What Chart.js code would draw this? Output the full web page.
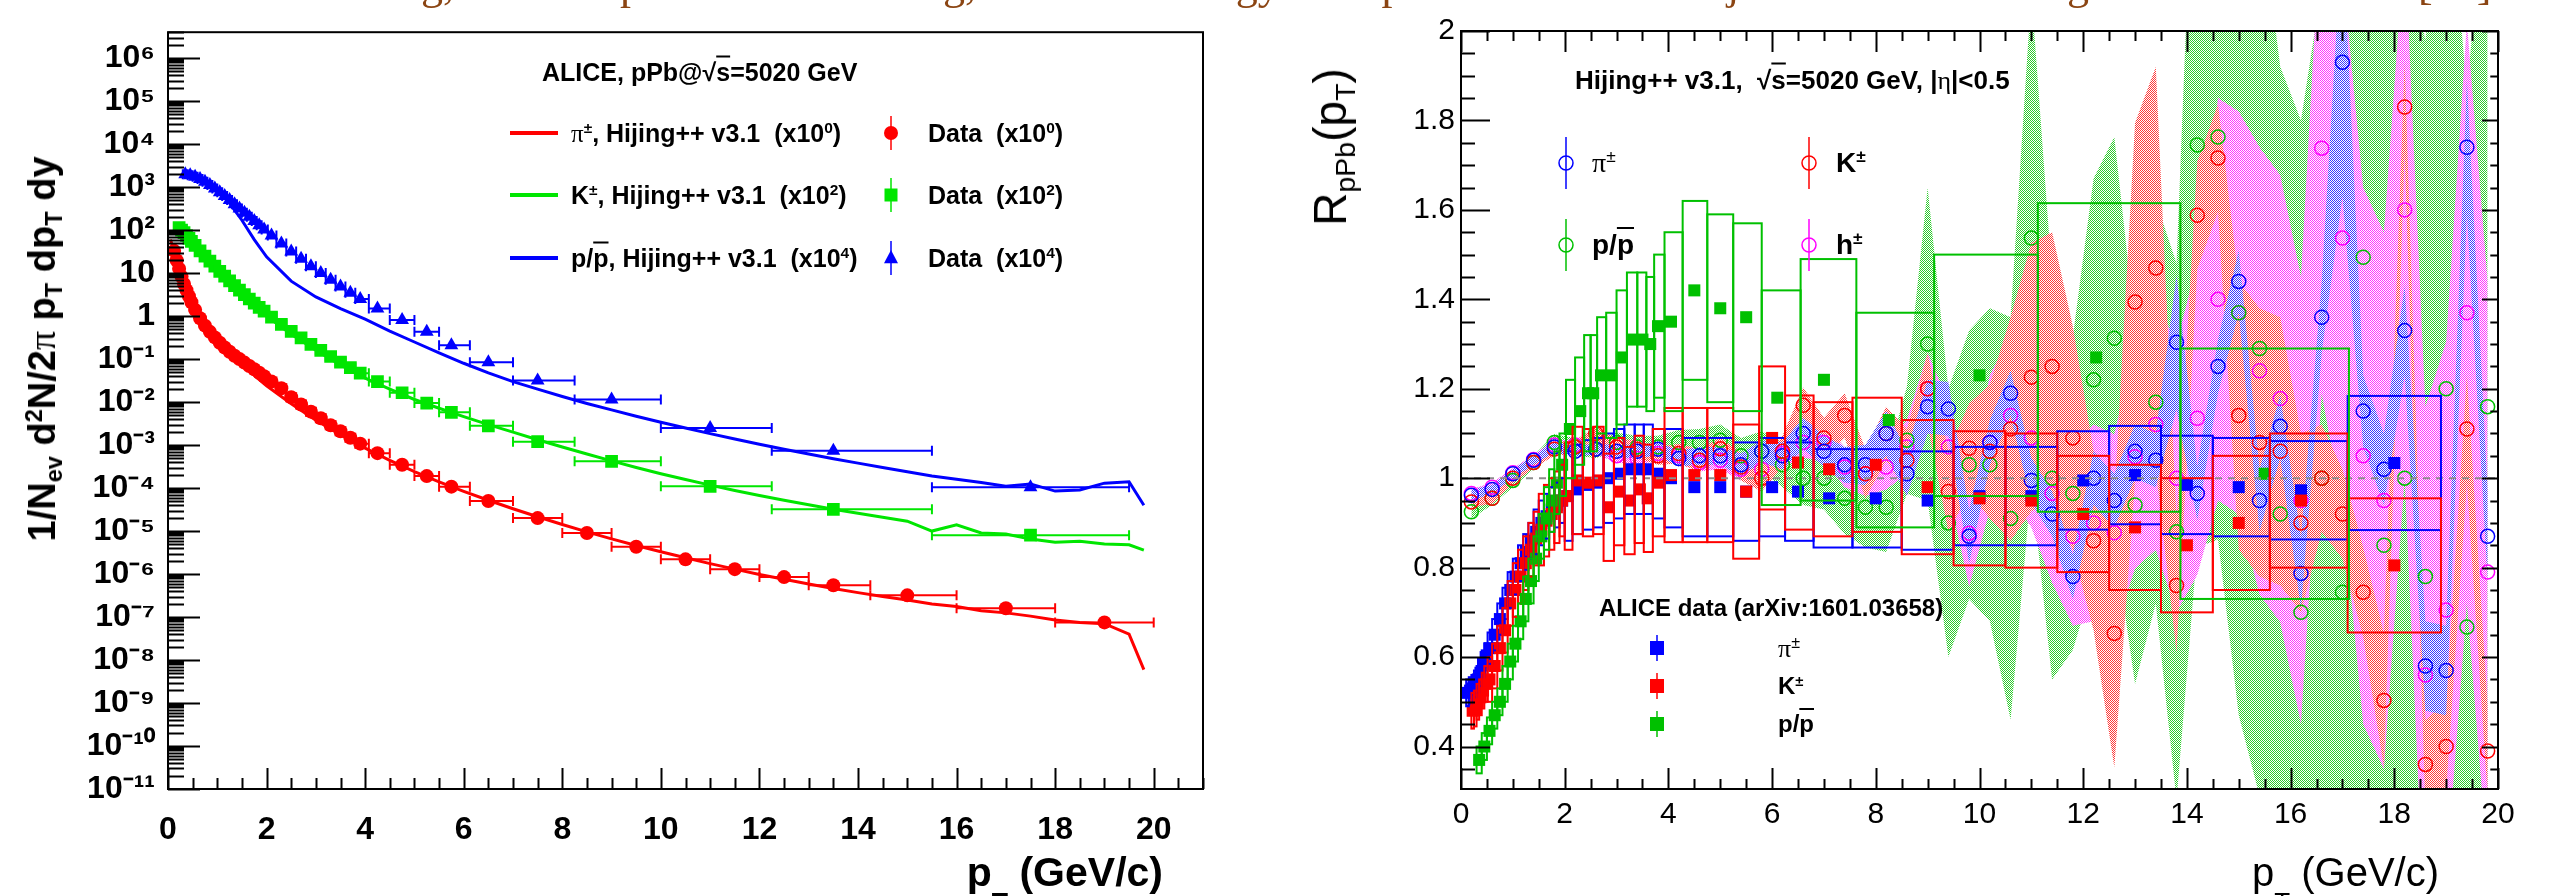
<!DOCTYPE html>
<html>
<head>
<meta charset="utf-8">
<script src="https://cdn.jsdelivr.net/npm/chart.js@4/dist/chart.umd.min.js"></script>
<style>
  html, body { margin: 0; padding: 0; background: #fff; }
  body { position: relative; width: 2549px; height: 896px; overflow: hidden;
         font-family: 'Liberation Sans', Arial, Helvetica, sans-serif; color: #000; }
  canvas { position: absolute; top: 0; }
  #spec { left: 0; }
  #rppb { left: 1300px; }
  .t { position: absolute; white-space: nowrap; line-height: 1; transform: translateY(-50%); }
  .b { font-weight: bold; }
  .sym { font-family: 'Liberation Serif', 'DejaVu Serif', serif; font-weight: normal; }
  sup { font-size: 62%; line-height: 0; vertical-align: 0.55em; }
  .lo { font-size: 62%; position: relative; top: 0.3em; line-height: 0; }
  .cut { font-size: 65%; position: relative; top: 0.95em; line-height: 0; }
  .ov { text-decoration: overline; }
  .rot { position: absolute; white-space: nowrap; line-height: 1; transform: translate(-50%, -50%) rotate(-90deg); }
  .brown { position: absolute; top: -37px; font: 44px 'Liberation Serif', 'Times New Roman', serif;
           color: #8b4513; line-height: 1; white-space: nowrap; }
</style>
</head>
<body>
<canvas id="spec" width="1240" height="896"></canvas>
<canvas id="rppb" width="1249" height="896"></canvas>

<!-- slide text above the figure, only its lower edge is in view -->
<span class="brown" style="left:399px">ng,</span>
<span class="brown" style="left:598px">up</span>
<span class="brown" style="left:921px">ng,</span>
<span class="brown" style="left:1222px">rgy</span>
<span class="brown" style="left:1362px">ep</span>
<span class="brown" style="left:1727px">jet</span>
<span class="brown" style="left:2045px">ng</span>
<span class="brown" style="left:2418px">[33]</span>

<!-- left panel texts -->
<div class="rot b" style="left:42px;top:349px;font-size:38px">1/N<span class="lo">ev</span> d<sup>2</sup>N/2<span class="sym">π</span> p<span class="lo">T</span> dp<span class="lo">T</span> dy</div>
<div class="t b" style="right:1386px;top:872px;font-size:41px">p<span class="cut">T</span> (GeV/c)</div>
<div class="t b" style="left:542px;top:72px;font-size:25px">ALICE, pPb@√<span class="ov">s</span>=5020 GeV</div>
<div class="t b" style="left:571px;top:133px;font-size:25px"><span class="sym">π</span><sup>±</sup>, Hijing++ v3.1&nbsp; (x10<sup>0</sup>)</div>
<div class="t b" style="left:571px;top:195px;font-size:25px">K<sup>±</sup>, Hijing++ v3.1&nbsp; (x10<sup>2</sup>)</div>
<div class="t b" style="left:571px;top:258px;font-size:25px">p/<span class="ov">p</span>, Hijing++ v3.1&nbsp; (x10<sup>4</sup>)</div>
<div class="t b" style="left:928px;top:133px;font-size:25px">Data&nbsp; (x10<sup>0</sup>)</div>
<div class="t b" style="left:928px;top:195px;font-size:25px">Data&nbsp; (x10<sup>2</sup>)</div>
<div class="t b" style="left:928px;top:258px;font-size:25px">Data&nbsp; (x10<sup>4</sup>)</div>

<!-- right panel texts -->
<div class="rot" style="left:1330px;top:147px;font-size:46px">R<span class="lo">pPb</span>(p<span class="lo">T</span>)</div>
<div class="t" style="right:110px;top:872px;font-size:40px">p<span class="cut">T</span> (GeV/c)</div>
<div class="t b" style="left:1575px;top:80px;font-size:26px">Hijing++ v3.1,&nbsp; √<span class="ov">s</span>=5020 GeV, |<span class="sym">η</span>|&lt;0.5</div>
<div class="t" style="left:1592px;top:163px;font-size:28px"><span class="sym">π</span><sup>±</sup></div>
<div class="t b" style="left:1836px;top:163px;font-size:28px">K<sup>±</sup></div>
<div class="t b" style="left:1592px;top:245px;font-size:28px">p/<span class="ov">p</span></div>
<div class="t b" style="left:1836px;top:245px;font-size:28px">h<sup>±</sup></div>
<div class="t b" style="left:1599px;top:608px;font-size:24px">ALICE data (arXiv:1601.03658)</div>
<div class="t" style="left:1778px;top:648px;font-size:26px"><span class="sym">π</span><sup>±</sup></div>
<div class="t b" style="left:1778px;top:686px;font-size:24px">K<sup>±</sup></div>
<div class="t b" style="left:1778px;top:724px;font-size:24px">p/<span class="ov">p</span></div>

<script>
const FONT = "'Liberation Sans', Arial, Helvetica, sans-serif";

// ---------------- left panel: spectra ----------------
const specXTicks = [0, 2, 4, 6, 8, 10, 12, 14, 16, 18, 20];
const specYExp = [-11, -10, -9, -8, -7, -6, -5, -4, -3, -2, -1, 0, 1, 2, 3, 4, 5, 6];

// ALICE data, pions x10^0
const piX = [0.125,0.175,0.225,0.275,0.325,0.375,0.425,0.475,0.55,0.65,0.75,0.85,0.95,1.05,1.15,1.25,1.35,1.45,1.55,1.65,1.75,1.85,1.95,
  2.1,2.3,2.5,2.7,2.9,3.1,3.3,3.5,3.7,3.9,4.25,4.75,5.25,5.75,6.5,7.5,8.5,9.5,10.5,11.5,12.5,13.5,15,17,19];
const piY = [33,20,12.6,8.3,5.6,4.0,2.9,2.1,1.4,0.89,0.6,0.43,0.32,0.24,0.186,0.148,0.12,0.1,0.083,0.069,0.058,0.048,0.04,
  0.03,0.021,0.013,0.0088,0.006,0.0042,0.0029,0.0021,0.00148,0.00108,6.5e-4,3.5e-4,1.9e-4,1.08e-4,5.0e-5,2.0e-5,9.0e-6,4.3e-6,
  2.2e-6,1.3e-6,8.5e-7,5.5e-7,3.2e-7,1.6e-7,7.5e-8];
// kaons x10^2
const kaX = [0.225,0.275,0.325,0.375,0.425,0.475,0.55,0.65,0.75,0.85,0.95,1.05,1.15,1.25,1.35,1.45,1.55,1.65,1.75,1.85,1.95,
  2.1,2.3,2.5,2.7,2.9,3.1,3.3,3.5,3.7,3.9,4.25,4.75,5.25,5.75,6.5,7.5,9,11,13.5,17.5];
const kaY = [115,100,87,75,64,55,44,33,25,19,14.5,11,8.5,6.6,5.1,4.0,3.15,2.5,2.0,1.6,1.3,
  0.95,0.64,0.44,0.31,0.22,0.16,0.115,0.085,0.063,0.047,0.030,0.0165,0.0095,0.0058,0.0028,0.0012,4.2e-4,1.1e-4,3.2e-5,8e-6];
// protons x10^4
const prX = [0.35,0.45,0.55,0.65,0.75,0.85,0.95,1.05,1.15,1.25,1.35,1.45,1.55,1.65,1.75,1.85,1.95,
  2.1,2.3,2.5,2.7,2.9,3.1,3.3,3.5,3.7,3.9,4.25,4.75,5.25,5.75,6.5,7.5,9,11,13.5,17.5];
const prY = [2000,1900,1750,1550,1330,1120,930,760,620,500,400,320,255,205,163,130,104,
  75,49,32,21.5,14.5,10,7.0,4.9,3.5,2.5,1.5,0.81,0.43,0.21,0.085,0.032,0.0115,0.0025,7.4e-4,1.05e-4];

// Hijing++ v3.1 curves
const piModX = [0.05,0.15,0.25,0.35,0.45,0.6,0.8,1.0,1.25,1.5,1.75,2.0,2.5,3.0,3.5,4.0,4.5,5.0,5.5,6.0,6.5,7.0,7.5,8.0,8.5,9.0,9.5,
  10,10.5,11,11.5,12,12.5,13,13.5,14,14.5,15,15.5,16,16.5,17,17.5,18,18.5,19,19.5,19.8];
const piModY = [60,26,11,5.5,3.0,1.5,0.65,0.32,0.15,0.077,0.042,0.024,0.0092,0.0038,0.00175,8.5e-4,4.4e-4,2.4e-4,1.4e-4,8.4e-5,
  5.2e-5,3.3e-5,2.15e-5,1.42e-5,9.6e-6,6.6e-6,4.6e-6,3.3e-6,2.4e-6,1.75e-6,1.3e-6,9.8e-7,7.6e-7,5.9e-7,4.6e-7,3.7e-7,3.0e-7,
  2.5e-7,2.0e-7,1.75e-7,1.4e-7,1.25e-7,1.05e-7,8.5e-8,7.5e-8,7.0e-8,4.0e-8,6e-9];
const kaModX = [0.1,0.2,0.3,0.4,0.5,0.6,0.8,1.0,1.25,1.5,1.75,2.0,2.5,3.0,3.5,4.0,4.5,5.0,5.5,6.0,6.5,7.0,7.5,8.0,8.5,9.0,9.5,
  10,10.5,11,11.5,12,12.5,13,13.5,14,14.5,15,15.5,16,16.5,17,17.5,18,18.5,19,19.5,19.8];
const kaModY = [105,100,86,70,57,40,22,12,5.8,3.1,1.75,1.0,0.38,0.16,0.073,0.036,0.02,0.0115,0.0072,0.0046,0.003,0.002,0.00133,
  9e-4,6.2e-4,4.3e-4,3.0e-4,2.15e-4,1.58e-4,1.17e-4,8.8e-5,6.7e-5,5.2e-5,4.1e-5,3.2e-5,2.6e-5,2.1e-5,1.7e-5,1.0e-5,1.4e-5,
  9e-6,8.5e-6,6.5e-6,5.5e-6,5.8e-6,5.0e-6,4.8e-6,3.6e-6];
const prModX = [0.25,0.4,0.6,0.8,1.0,1.25,1.5,1.75,2.0,2.5,3.0,3.5,4.0,4.5,5.0,5.5,6.0,6.5,7.0,7.5,8.0,8.5,9.0,9.5,
  10,10.5,11,11.5,12,12.5,13,13.5,14,14.5,15,15.5,16,16.5,17,17.5,18,18.5,19,19.5,19.8];
const prModY = [1900,1900,1700,1300,850,420,170,60,24,6.5,2.8,1.5,0.85,0.45,0.25,0.14,0.08,0.048,0.03,0.02,0.0135,0.0093,
  0.0066,0.0047,0.0034,0.0025,0.00185,0.00138,0.00105,8e-4,6.2e-4,4.8e-4,3.8e-4,3.0e-4,2.4e-4,1.9e-4,1.6e-4,1.35e-4,
  1.1e-4,1.25e-4,8.5e-5,9e-5,1.3e-4,1.4e-4,4e-5];

// ---------------- right panel: R_pPb ----------------
const rXTicks = [0, 2, 4, 6, 8, 10, 12, 14, 16, 18, 20];
const rYTicks = [0.4, 0.6, 0.8, 1.0, 1.2, 1.4, 1.6, 1.8, 2.0];

const hijX = [0.2,0.6,1.0,1.4,1.8,2.2,2.6,3.0,3.4,3.8,4.2,4.6,5.0,5.4,5.8,6.2,6.6,7.0,7.4,7.8,8.2,8.6,9.0,9.4,9.8,
  10.2,10.6,11.0,11.4,11.8,12.2,12.6,13.0,13.4,13.8,14.2,14.6,15.0,15.4,15.8,16.2,16.6,17.0,17.4,17.8,18.2,18.6,19.0,19.4,19.8];
const hijPi = [0.962,0.975,1.01,1.04,1.07,1.06,1.065,1.06,1.06,1.065, 1.044,1.05,1.05,1.03,1.06,1.05,1.10,1.06,1.03,1.03,
  1.10,1.01,1.16,1.155,0.87,1.08,1.19,0.995,0.92,0.78, 1.0,0.95,1.06,1.04,1.304,0.966,1.25,1.44,0.95,1.116,
  0.787,1.36,1.93,1.15,1.02,1.33,0.58,0.57,1.74,0.87];
const hijPiErr = [0.012,0.01,0.01,0.01,0.012,0.012,0.012,0.015,0.015,0.015, 0.018,0.02,0.02,0.025,0.025,0.03,0.035,0.035,0.04,0.045,
  0.05,0.05,0.06,0.06,0.06,0.05,0.05,0.05,0.05,0.05, 0.06,0.06,0.06,0.06,0.15,0.06,0.06,0.07,0.07,0.07,
  0.08,0.08,0.3,0.08,0.08,0.1,0.1,0.1,0.15,0.1];
const hijK = [0.947,0.955,1.0,1.035,1.065,1.07,1.10,1.07,1.065,1.05, 1.055,1.04,1.066,1.025,1.0,1.06,1.163,1.09,1.14,1.01,
  1.10,1.04,1.2,0.97,1.067,1.06,1.11,1.226,1.25,1.09, 0.86,0.653,1.394,1.47,0.76,1.588,1.716,1.14,1.08,1.06,
  0.90,1.0,0.92,0.745,0.503,1.83,0.36,0.40,1.11,0.39];
const hijKErr = [0.012,0.012,0.012,0.012,0.015,0.015,0.015,0.018,0.02,0.02, 0.022,0.025,0.025,0.03,0.03,0.035,0.04,0.045,0.05,0.055,
  0.06,0.07,0.08,0.09,0.1,0.15,0.25,0.3,0.3,0.25, 0.2,0.3,0.4,0.45,0.15,0.12,0.12,0.3,0.3,0.3,
  0.2,0.12,0.1,0.1,0.15,0.1,0.1,0.1,0.12,0.1];
const hijP = [0.925,0.955,0.995,1.035,1.08,1.07,1.065,1.08,1.07,1.07, 1.08,1.08,1.085,1.05,1.06,1.03,1.0,1.0,0.955,0.935,
  0.935,1.085,1.30,0.90,1.03,1.03,0.91,1.537,1.0,0.966, 1.22,1.313,0.94,1.17,0.88,1.745,1.763,1.37,1.29,0.92,
  0.70,1.0,0.745,1.494,0.85,1.0,0.78,1.20,0.667,1.16];
const hijPErr = [0.015,0.015,0.015,0.015,0.018,0.02,0.02,0.022,0.025,0.025, 0.028,0.03,0.035,0.04,0.045,0.05,0.06,0.07,0.08,0.09,
  0.1,0.12,0.35,0.3,0.3,0.35,0.45,0.55,0.45,0.35, 0.45,0.45,0.4,0.45,0.6,0.9,0.9,0.9,1.0,1.0,
  1.1,1.1,1.2,1.2,1.2,1.2,1.2,1.2,1.2,1.2];
const hijH = [0.966,0.98,1.012,1.042,1.074,1.074,1.065,1.05,1.044,1.055, 1.05,1.035,1.04,1.02,1.02,1.055,1.08,1.08,1.025,1.01,
  1.025,1.07,1.2,1.07,0.877,1.08,1.14,1.09,0.966,0.87, 0.90,0.878,1.048,1.12,1.0,1.134,1.40,1.37,1.24,1.178,
  0.95,1.738,1.537,1.05,0.95,1.60,0.56,0.705,1.37,0.79];
const hijHErr = [0.01,0.01,0.01,0.01,0.012,0.012,0.012,0.015,0.015,0.015, 0.018,0.02,0.02,0.025,0.025,0.03,0.035,0.04,0.045,0.05,
  0.05,0.06,0.08,0.1,0.12,0.15,0.18,0.2,0.2,0.2, 0.22,0.22,0.25,0.28,0.3,0.35,0.45,0.45,0.5,0.5,
  0.5,0.55,0.6,0.6,0.6,0.6,0.6,0.6,0.65,0.65];

// ALICE R_pPb with systematic uncertainties
const alPiX = [0.125,0.175,0.225,0.275,0.325,0.375,0.425,0.475,0.55,0.65,0.75,0.85,0.95,1.05,1.15,1.25,1.35,1.45,1.55,1.65,1.75,1.85,1.95,
  2.05,2.25,2.45,2.65,2.85,3.05,3.25,3.45,3.6,3.8,4.05,4.5,5.0,5.5,6.0,6.5,7.1,8.0,9.0,10.0,11.0,12.0,13.0,14.0,15.0,16.2,18.0];
const alPiY = [0.52,0.525,0.53,0.54,0.55,0.565,0.585,0.6,0.62,0.65,0.685,0.72,0.75,0.78,0.81,0.835,0.86,0.88,0.9,0.915,0.93,0.94,0.95,
  0.96,0.975,0.985,0.99,1.0,1.01,1.02,1.02,1.02,1.01,1.0,0.98,0.98,0.97,0.98,0.97,0.955,0.955,0.95,0.96,0.96,0.995,1.007,0.985,0.98,0.973,1.034];
const alPiSys = [0.03,0.03,0.03,0.03,0.03,0.03,0.03,0.03,0.035,0.035,0.035,0.035,0.04,0.04,0.04,0.04,0.04,0.05,0.05,0.05,0.05,0.05,0.05,
  0.1,0.1,0.1,0.1,0.1,0.1,0.1,0.1,0.1,0.1,0.11,0.11,0.11,0.11,0.11,0.11,0.11,0.11,0.11,0.11,0.11,0.11,0.11,0.11,0.11,0.11,0.15];
const alKX = [0.225,0.275,0.325,0.375,0.425,0.475,0.55,0.65,0.75,0.85,0.95,1.05,1.15,1.25,1.35,1.45,1.55,1.65,1.75,1.85,1.95,
  2.05,2.25,2.45,2.65,2.85,3.05,3.25,3.45,3.6,3.8,4.05,4.5,5.0,5.5,6.0,6.5,7.1,8.0,9.0,10.0,11.0,12.0,13.0,14.0,15.0,16.2,18.0];
const alKY = [0.48,0.485,0.50,0.51,0.525,0.54,0.55,0.58,0.62,0.66,0.72,0.75,0.78,0.81,0.84,0.865,0.885,0.905,0.92,0.935,0.95,
  0.96,0.995,0.99,0.995,0.935,0.97,0.95,0.975,0.955,0.99,1.007,1.007,1.007,0.97,1.09,1.035,1.02,1.03,0.98,0.955,0.95,0.92,0.89,0.85,0.90,0.95,0.805];
const alKSys = [0.04,0.04,0.04,0.04,0.04,0.04,0.05,0.05,0.05,0.05,0.05,0.06,0.06,0.06,0.06,0.06,0.08,0.08,0.08,0.08,0.08,
  0.12,0.12,0.12,0.12,0.12,0.12,0.12,0.12,0.12,0.12,0.15,0.15,0.15,0.15,0.16,0.15,0.15,0.15,0.15,0.15,0.15,0.13,0.14,0.15,0.15,0.15,0.15];
const alPX = [0.35,0.45,0.55,0.65,0.75,0.85,0.95,1.05,1.15,1.25,1.35,1.45,1.55,1.65,1.75,1.85,1.95,
  2.1,2.3,2.45,2.55,2.7,2.9,3.1,3.3,3.5,3.65,3.8,4.05,4.5,5.0,5.5,6.1,7.0,8.25,10.0,12.25,15.5];
const alPY = [0.37,0.40,0.435,0.47,0.50,0.54,0.59,0.63,0.68,0.73,0.77,0.82,0.87,0.91,0.95,0.99,1.03,
  1.11,1.15,1.19,1.19,1.23,1.23,1.27,1.31,1.31,1.30,1.34,1.35,1.42,1.38,1.36,1.18,1.22,1.13,1.23,1.27,1.01];
const alPSys = [0.03,0.03,0.03,0.03,0.03,0.04,0.04,0.04,0.04,0.05,0.05,0.05,0.05,0.07,0.07,0.07,0.07,
  0.11,0.12,0.13,0.13,0.13,0.14,0.15,0.15,0.15,0.15,0.16,0.2,0.2,0.21,0.21,0.24,0.27,0.24,0.27,0.345,0.28];

// ---------------- helpers ----------------
const SUP = { '-': '\u207B', '0': '\u2070', '1': '\u00B9', '2': '\u00B2', '3': '\u00B3', '4': '\u2074',
              '5': '\u2075', '6': '\u2076', '7': '\u2077', '8': '\u2078', '9': '\u2079' };
const powLabel = v => {
  const e = Math.round(Math.log10(v));
  if (e === 0) return '1';
  if (e === 1) return '10';
  return '10' + String(e).split('').map(c => SUP[c]).join('');
};
const pts = (xs, ys) => xs.map((x, i) => ({ x, y: ys[i] }));
// half bin widths from neighbouring centres
const halfWidths = xs => xs.map((v, i) => {
  const l = i > 0 ? (v - xs[i - 1]) / 2 : null;
  const r = i < xs.length - 1 ? (xs[i + 1] - v) / 2 : null;
  return [l ?? r, r ?? l];
});
// ROOT 3001-like dotted fill
function dots(color) {
  const c = document.createElement('canvas');
  c.width = 4; c.height = 4;
  const g = c.getContext('2d');
  g.fillStyle = color;
  for (let yy = 0; yy < 4; yy++)
    for (let xx = 0; xx < 4; xx++)
      if ((xx + yy) % 2 === 0) g.fillRect(xx, yy, 1, 1);
  return g.createPattern(c, 'repeat');
}

function shape(ctx, kind, x, y, s, color) {
  ctx.fillStyle = color; ctx.strokeStyle = color;
  ctx.beginPath();
  if (kind === 'circle') { ctx.arc(x, y, s, 0, Math.PI * 2); ctx.fill(); }
  else if (kind === 'ring') { ctx.lineWidth = 1.5; ctx.arc(x, y, s, 0, Math.PI * 2); ctx.stroke(); }
  else if (kind === 'rect') { ctx.fillRect(x - s, y - s, 2 * s, 2 * s); }
  else if (kind === 'tri') { ctx.moveTo(x, y - s * 1.15); ctx.lineTo(x + s, y + s * 0.75); ctx.lineTo(x - s, y + s * 0.75); ctx.closePath(); ctx.fill(); }
}

// ROOT-like frame with inward ticks
const rootFrame = {
  id: 'rootFrame',
  afterDraw(chart, args, o) {
    const { ctx, chartArea: a, scales: { x, y } } = chart;
    ctx.save();
    ctx.strokeStyle = '#000';
    ctx.lineWidth = 2;
    ctx.strokeRect(a.left, a.top, a.right - a.left, a.bottom - a.top);
    ctx.beginPath();
    const xt = (v, len) => {
      const p = Math.round(x.getPixelForValue(v)) + 0.5;
      ctx.moveTo(p, a.bottom); ctx.lineTo(p, a.bottom - len);
      if (o.mirror) { ctx.moveTo(p, a.top); ctx.lineTo(p, a.top + len); }
    };
    const yt = (v, len) => {
      const p = Math.round(y.getPixelForValue(v)) + 0.5;
      ctx.moveTo(a.left, p); ctx.lineTo(a.left + len, p);
      if (o.mirror) { ctx.moveTo(a.right, p); ctx.lineTo(a.right - len * 0.55, p); }
    };
    o.xMajor.forEach(v => xt(v, o.xMajorLen));
    o.xMinor.forEach(v => xt(v, o.xMinorLen));
    o.yMajor.forEach(v => yt(v, o.yMajorLen));
    o.yMinor.forEach(v => yt(v, o.yMinorLen));
    ctx.stroke();
    ctx.restore();
  }
};

// horizontal error bars of the spectra
const errBars = {
  id: 'errBars',
  beforeDatasetsDraw(chart) {
    const { ctx, chartArea: a, scales: { x, y } } = chart;
    ctx.save();
    ctx.beginPath(); ctx.rect(a.left, a.top, a.right - a.left, a.bottom - a.top); ctx.clip();
    chart.data.datasets.forEach(ds => {
      if (!ds.xerr) return;
      ctx.strokeStyle = ds.borderColor; ctx.lineWidth = 2;
      ds.data.forEach((p, i) => {
        const [l, r] = ds.xerr[i];
        const x0 = x.getPixelForValue(p.x - l), x1 = x.getPixelForValue(p.x + r), py = y.getPixelForValue(p.y);
        ctx.beginPath();
        ctx.moveTo(x0, py); ctx.lineTo(x1, py);
        ctx.moveTo(x0, py - 5); ctx.lineTo(x0, py + 5);
        ctx.moveTo(x1, py - 5); ctx.lineTo(x1, py + 5);
        ctx.stroke();
      });
    });
    ctx.restore();
  }
};

// systematic boxes + dashed unity line
const sysBoxes = {
  id: 'sysBoxes',
  afterDatasetsDraw(chart) {
    const { ctx, chartArea: a, scales: { x, y } } = chart;
    ctx.save();
    ctx.beginPath(); ctx.rect(a.left, a.top, a.right - a.left, a.bottom - a.top); ctx.clip();
    ctx.strokeStyle = '#8c8c8c'; ctx.lineWidth = 2; ctx.setLineDash([7, 6]);
    const p1 = y.getPixelForValue(1);
    ctx.beginPath(); ctx.moveTo(a.left, p1); ctx.lineTo(a.right, p1); ctx.stroke();
    ctx.setLineDash([]);
    chart.data.datasets.forEach(ds => {
      if (!ds.sys) return;
      ctx.strokeStyle = ds.borderColor; ctx.lineWidth = 2;
      ds.data.forEach((p, i) => {
        const [l, r] = ds.xerr[i];
        const x0 = x.getPixelForValue(p.x - l), x1 = x.getPixelForValue(p.x + r);
        const y0 = y.getPixelForValue(p.y + ds.sys[i]), y1 = y.getPixelForValue(p.y - ds.sys[i]);
        ctx.strokeRect(x0, y0, x1 - x0, y1 - y0);
      });
    });
    ctx.restore();
  }
};

// legend symbols
const keyMarks = {
  id: 'keyMarks',
  afterDraw(chart, args, o) {
    const ctx = chart.ctx;
    ctx.save();
    o.items.forEach(it => {
      if (it.kind === 'line') {
        ctx.strokeStyle = it.color; ctx.lineWidth = 4;
        ctx.beginPath(); ctx.moveTo(it.x1, it.y); ctx.lineTo(it.x2, it.y); ctx.stroke();
        return;
      }
      ctx.strokeStyle = it.color; ctx.lineWidth = 1.5;
      ctx.beginPath(); ctx.moveTo(it.x, it.y - it.bar); ctx.lineTo(it.x, it.y + it.bar); ctx.stroke();
      shape(ctx, it.kind, it.x, it.y, it.s, it.color);
    });
    ctx.restore();
  }
};

const RED = '#ff0000', GREEN = '#00e600', BLUE = '#0000ff';

// ---------------- left chart ----------------
const specYMinor = [];
specYExp.forEach(e => { for (let m = 2; m <= 9; m++) { const v = m * Math.pow(10, e); if (v < 4.02e6) specYMinor.push(v); } });
const specXMinor = [];
for (let v = 0.5; v <= 21; v += 0.5) if (v % 2 !== 0) specXMinor.push(v);

const dataSet = (xs, ys, style, r, color) => ({
  data: pts(xs, ys), xerr: halfWidths(xs), pointStyle: style, pointRadius: r,
  backgroundColor: color, borderColor: color, borderWidth: 0, showLine: false, order: 1
});
const modelSet = (xs, ys, color) => ({
  data: pts(xs, ys), showLine: true, borderColor: color, borderWidth: 3, pointRadius: 0, tension: 0, order: 2
});

new Chart(document.getElementById('spec'), {
  type: 'scatter',
  data: {
    datasets: [
      modelSet(piModX, piModY, RED),
      modelSet(kaModX, kaModY, GREEN),
      modelSet(prModX, prModY, BLUE),
      dataSet(piX, piY, 'circle', 7, RED),
      dataSet(kaX, kaY, 'rect', 9, GREEN),
      dataSet(prX, prY, 'triangle', 8, BLUE)
    ]
  },
  options: {
    responsive: false, animation: false, devicePixelRatio: 1,
    layout: { padding: { left: 0, top: 31, right: 37, bottom: 0 } },
    plugins: {
      legend: { display: false }, tooltip: { enabled: false },
      rootFrame: { mirror: false, xMajor: specXTicks, xMinor: specXMinor, xMajorLen: 21, xMinorLen: 11,
                   yMajor: specYExp.map(e => Math.pow(10, e)), yMinor: specYMinor, yMajorLen: 32, yMinorLen: 16 },
      keyMarks: { items: [
        { kind: 'line', x1: 510, x2: 558, y: 133, color: RED },
        { kind: 'line', x1: 510, x2: 558, y: 195, color: GREEN },
        { kind: 'line', x1: 510, x2: 558, y: 258, color: BLUE },
        { kind: 'circle', x: 891, y: 133, s: 7, bar: 17, color: RED },
        { kind: 'rect', x: 891, y: 195, s: 6.5, bar: 17, color: GREEN },
        { kind: 'tri', x: 891, y: 258, s: 7, bar: 17, color: BLUE }
      ] }
    },
    scales: {
      x: {
        type: 'linear', min: 0, max: 21,
        afterFit: s => { s.height = 107; },
        afterBuildTicks: s => { s.ticks = specXTicks.map(v => ({ value: v })); },
        grid: { display: false, drawTicks: false }, border: { display: false },
        ticks: { color: '#000', font: { family: FONT, size: 32, weight: 'bold' }, padding: 22,
                 maxRotation: 0, autoSkip: false, callback: v => String(v) }
      },
      y: {
        type: 'logarithmic', min: 1e-11, max: 4.02e6,
        afterFit: s => { s.width = 168; },
        afterBuildTicks: s => { s.ticks = specYExp.map(e => ({ value: Math.pow(10, e) })); },
        grid: { display: false, drawTicks: false }, border: { display: false },
        ticks: { color: '#000', font: { family: FONT, size: 32, weight: 'bold' }, padding: 13,
                 autoSkip: false, callback: v => powLabel(v) }
      }
    }
  },
  plugins: [errBars, rootFrame, keyMarks]
});

// ---------------- right chart ----------------
const rYMinor = [];
for (let v = 0.35; v < 2.0; v += 0.05) if (Math.abs(v * 5 - Math.round(v * 5)) > 0.01) rYMinor.push(v);
const rXMinor = [];
for (let v = 0.5; v < 20; v += 0.5) if (v % 2 !== 0) rXMinor.push(v);

const CB = '#0000ff', CR = '#ff0000', CG = '#00c000', CM = '#ff00ff';
const bandSets = (ys, es, pat, order) => [
  { data: hijX.map((x, i) => ({ x, y: ys[i] + es[i] })), showLine: true, fill: '+1', backgroundColor: pat,
    borderColor: 'rgba(0,0,0,0)', borderWidth: 0, pointRadius: 0, tension: 0, order },
  { data: hijX.map((x, i) => ({ x, y: ys[i] - es[i] })), showLine: true, fill: false,
    borderColor: 'rgba(0,0,0,0)', borderWidth: 0, pointRadius: 0, tension: 0, order }
];
const ringSet = (ys, color) => ({
  data: pts(hijX, ys), pointStyle: 'circle', pointRadius: 7, borderWidth: 1.5,
  borderColor: color, backgroundColor: 'rgba(0,0,0,0)', showLine: false, order: 5
});
const aliceSet = (xs, ys, sys, color, order) => ({
  data: pts(xs, ys), sys, xerr: halfWidths(xs), pointStyle: 'rect', pointRadius: 8.5,
  backgroundColor: color, borderColor: color, borderWidth: 0, showLine: false, order
});

new Chart(document.getElementById('rppb'), {
  type: 'scatter',
  data: {
    datasets: [
      ...bandSets(hijP, hijPErr, dots('#2ccc2c'), 13),
      ...bandSets(hijH, hijHErr, dots('#ff33ff'), 12),
      ...bandSets(hijK, hijKErr, dots('#ff3838'), 11),
      ...bandSets(hijPi, hijPiErr, dots('#3a3aff'), 10),
      ringSet(hijPi, CB), ringSet(hijK, CR), ringSet(hijP, CG), ringSet(hijH, CM),
      aliceSet(alPiX, alPiY, alPiSys, CB, 3),
      aliceSet(alKX, alKY, alKSys, CR, 2),
      aliceSet(alPX, alPY, alPSys, CG, 1)
    ]
  },
  options: {
    responsive: false, animation: false, devicePixelRatio: 1,
    layout: { padding: { left: 0, top: 31, right: 51, bottom: 0 } },
    plugins: {
      legend: { display: false }, tooltip: { enabled: false },
      rootFrame: { mirror: true, xMajor: rXTicks, xMinor: rXMinor, xMajorLen: 21, xMinorLen: 10,
                   yMajor: rYTicks, yMinor: rYMinor, yMajorLen: 29, yMinorLen: 14 },
      keyMarks: { items: [
        { kind: 'ring', x: 266, y: 163, s: 7, bar: 26, color: CB },
        { kind: 'ring', x: 509, y: 163, s: 7, bar: 26, color: CR },
        { kind: 'ring', x: 266, y: 245, s: 7, bar: 26, color: CG },
        { kind: 'ring', x: 509, y: 245, s: 7, bar: 26, color: CM },
        { kind: 'rect', x: 357, y: 648, s: 7, bar: 13, color: CB },
        { kind: 'rect', x: 357, y: 686, s: 7, bar: 13, color: CR },
        { kind: 'rect', x: 357, y: 724, s: 7, bar: 13, color: CG }
      ] }
    },
    scales: {
      x: {
        type: 'linear', min: 0, max: 20,
        afterFit: s => { s.height = 107; },
        afterBuildTicks: s => { s.ticks = rXTicks.map(v => ({ value: v })); },
        grid: { display: false, drawTicks: false }, border: { display: false },
        ticks: { color: '#000', font: { family: FONT, size: 30 }, padding: 8,
                 maxRotation: 0, autoSkip: false, callback: v => String(v) }
      },
      y: {
        type: 'linear', min: 0.305, max: 2.0,
        afterFit: s => { s.width = 161; },
        afterBuildTicks: s => { s.ticks = rYTicks.map(v => ({ value: v })); },
        grid: { display: false, drawTicks: false }, border: { display: false },
        ticks: { color: '#000', font: { family: FONT, size: 30 }, padding: 6,
                 autoSkip: false, callback: v => String(+v.toFixed(1)) }
      }
    }
  },
  plugins: [sysBoxes, rootFrame, keyMarks]
});
</script>
</body>
</html>
